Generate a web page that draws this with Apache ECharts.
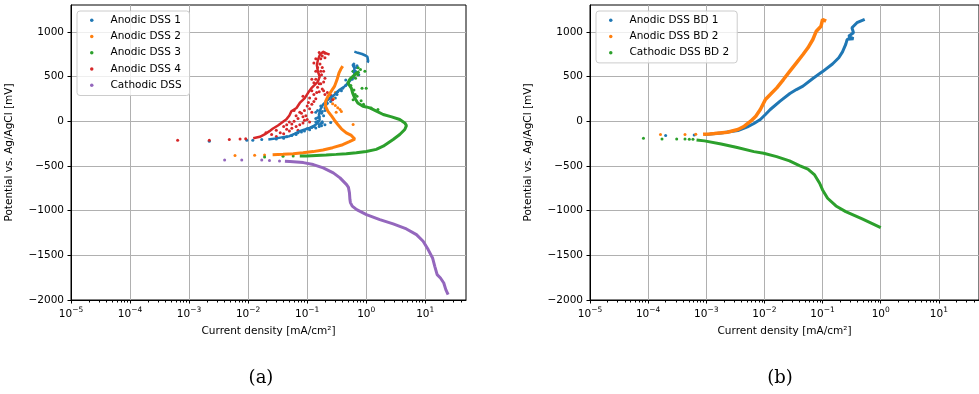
<!DOCTYPE html>
<html>
<head>
<meta charset="utf-8">
<script src="https://cdn.jsdelivr.net/npm/echarts@6/dist/echarts.min.js"></script>
<style>
html,body{margin:0;padding:0;background:#fff;}
#chart{width:979px;height:394px;}
</style>
</head>
<body>
<div id="chart"></div>
<script>
// ---------- data: [current density mA/cm2, potential mV] ----------
// (a) left panel
const dss1Dots = [[0.0022,-224],[0.0095,-213],[0.012,-213],[0.017,-205],[0.03,-200],[0.04,-190],[0.055,-160],[0.065,-150],[0.045,-175],[0.07,-130],[0.08,-120],[0.09,-110],[0.11,-95],[0.1,-85],[0.12,-70],[0.14,-75],[0.13,-60],[0.16,-60],[0.16,-40],[0.175,-50],[0.2,-40],[0.17,-25],[0.18,-20],[0.25,-15],[0.14,-10],[0.15,0],[0.18,-5],[0.14,30],[0.15,40],[0.16,50],[0.19,60],[0.175,90],[0.14,100],[0.18,110],[0.15,120],[0.2,120],[0.2,150],[0.17,170],[0.21,190],[0.22,200],[0.25,220],[0.26,245],[0.3,260],[0.27,280],[0.32,300],[0.33,330],[0.38,340],[0.4,370],[0.45,400],[0.48,420],[0.5,420],[0.45,460],[0.58,470],[0.55,480],[0.62,490],[0.75,520],[0.7,540],[0.6,560],[0.66,560],[0.68,600],[0.62,620],[0.7,620]];
const dss1Trail = [[0.022,-204],[0.030,-192],[0.039,-178],[0.050,-167],[0.061,-141],[0.075,-111],[0.091,-93],[0.110,-74],[0.134,-48],[0.152,-18],[0.163,18],[0.158,74],[0.167,130],[0.185,185],[0.211,222],[0.24,259],[0.29,296],[0.354,352],[0.43,389],[0.52,444],[0.63,518],[0.63,592],[0.59,629],[0.64,650]];
const dss1Top = [[0.63,778],[0.72,765],[0.85,752],[0.97,735],[1.05,720],[1.08,700],[1.08,672],[1.05,655]];

const dss2Dots = [[0.0060,-384],[0.0129,-380],[0.019,-377],[0.27,195],[0.3,175],[0.33,150],[0.36,130],[0.31,100],[0.38,110],[0.6,-37],[0.28,250],[0.3,320]];
const dss2Trail = [[0.026,-374],[0.039,-370],[0.058,-363],[0.085,-352],[0.126,-340],[0.185,-322],[0.27,-296],[0.40,-263],[0.52,-229],[0.64,-200],[0.68,-205],[0.56,-159],[0.46,-130],[0.38,-85],[0.33,-37],[0.29,11],[0.26,56],[0.225,111],[0.205,167],[0.205,222],[0.225,278],[0.255,333],[0.29,389],[0.32,463],[0.345,537],[0.37,581],[0.40,616]];

const dss3Dots = [[0.019,-400],[0.039,-392],[0.058,-390],[1.21,148],[1.58,130],[0.85,370],[1.0,370],[0.95,560],[0.8,578],[0.6,560],[0.73,597],[0.65,300],[0.7,280],[0.6,240],[0.62,350],[0.55,400],[0.66,480],[0.72,520],[0.82,230],[0.9,190]];
const dss3Trail = [[0.075,-388],[0.097,-388],[0.143,-383],[0.21,-378],[0.31,-371],[0.46,-363],[0.68,-352],[1.0,-338],[1.48,-315],[1.94,-280],[2.86,-205],[3.7,-149],[4.5,-93],[4.8,-49],[4.5,-19],[3.7,19],[2.7,49],[1.94,75],[1.49,112],[1.15,149],[1.0,160],[0.88,167],[0.72,204],[0.64,259],[0.59,315],[0.56,370],[0.49,426],[0.52,463],[0.59,500],[0.68,537],[0.77,555]];

const dss4Dots = [[0.00064,-213],[0.0022,-213],[0.0048,-205],[0.0073,-198],[0.0091,-195],[0.03,-170],[0.025,-150],[0.04,-140],[0.02,-130],[0.035,-130],[0.05,-110],[0.03,-100],[0.07,-100],[0.045,-90],[0.055,-80],[0.04,-60],[0.065,-60],[0.045,-40],[0.075,-40],[0.055,-30],[0.085,-20],[0.05,-10],[0.11,-10],[0.06,0],[0.09,10],[0.1,20],[0.07,30],[0.085,50],[0.065,60],[0.095,60],[0.08,90],[0.075,100],[0.12,100],[0.06,120],[0.09,120],[0.11,140],[0.1,170],[0.12,190],[0.105,210],[0.13,220],[0.14,250],[0.11,260],[0.085,280],[0.13,300],[0.2,300],[0.23,250],[0.27,240],[0.25,290],[0.145,320],[0.22,320],[0.16,330],[0.12,340],[0.19,340],[0.18,360],[0.15,380],[0.17,420],[0.16,420],[0.13,430],[0.19,440],[0.14,470],[0.12,470],[0.2,480],[0.175,520],[0.14,560],[0.17,560],[0.19,560],[0.15,600],[0.18,600],[0.165,640],[0.13,650],[0.14,700],[0.17,700],[0.2,710],[0.18,730],[0.2,760],[0.16,770]];
const dss4Trail = [[0.0122,-190],[0.0158,-174],[0.019,-148],[0.023,-111],[0.026,-85],[0.032,-48],[0.037,-18],[0.044,18],[0.050,63],[0.054,111],[0.066,148],[0.075,204],[0.080,222],[0.091,259],[0.103,315],[0.118,370],[0.134,407],[0.152,444],[0.163,500],[0.152,555],[0.146,629],[0.152,685],[0.163,740],[0.185,777],[0.211,759],[0.24,745]];

const cathDots = [[0.0040,-433],[0.0078,-433],[0.017,-435],[0.023,-440],[0.034,-444]];
const cathTrail = [[0.042,-448],[0.051,-451],[0.066,-455],[0.086,-463],[0.127,-485],[0.187,-522],[0.277,-578],[0.36,-634],[0.465,-709],[0.50,-740],[0.52,-800],[0.53,-877],[0.54,-910],[0.58,-950],[0.69,-989],[1.01,-1045],[1.70,-1101],[2.86,-1149],[4.8,-1205],[7.1,-1269],[9.2,-1343],[11.2,-1436],[13.3,-1530],[14.5,-1623],[15.9,-1716],[18.1,-1754],[20.6,-1810],[22.3,-1884],[24.4,-1940]];

// (b) right panel
const bd1Dots = [[0.0002,-160],[0.00062,-155]];
const bd1Trail = [[0.00094,-150],[0.0018,-131],[0.0035,-104],[0.0051,-63],[0.0066,-26],[0.0085,19],[0.0104,75],[0.0126,131],[0.0186,224],[0.0274,310],[0.0355,354],[0.046,392],[0.068,478],[0.1,555],[0.148,640],[0.19,710],[0.22,776],[0.25,860],[0.265,916],[0.34,923],[0.28,950],[0.28,972],[0.34,990],[0.32,1046],[0.39,1102],[0.53,1139]];
const bd2Dots = [[0.000163,-150],[0.00043,-149],[0.00066,-146]];
const bd2Trail = [[0.00088,-146],[0.00114,-142],[0.00138,-138],[0.0023,-123],[0.0035,-93],[0.0045,-56],[0.0058,0],[0.0071,56],[0.0085,131],[0.0104,243],[0.0126,298],[0.0163,373],[0.0212,466],[0.0274,560],[0.0355,653],[0.046,746],[0.056,821],[0.068,914],[0.078,1007],[0.094,1063],[0.10,1138],[0.107,1150],[0.115,1119]];
const bdCathDots = [[0.000083,-190],[0.000173,-198],[0.00031,-198],[0.00043,-198],[0.00051,-201],[0.00059,-201]];
const bdCathTrail = [[0.00068,-209],[0.00093,-220],[0.0018,-254],[0.0034,-295],[0.0066,-340],[0.0097,-358],[0.0162,-396],[0.027,-444],[0.040,-496],[0.056,-537],[0.073,-601],[0.089,-694],[0.10,-769],[0.122,-862],[0.17,-948],[0.25,-1011],[0.48,-1093],[1.0,-1190]];

const leftNames = ['Anodic DSS 1','Anodic DSS 2','Anodic DSS 3','Anodic DSS 4','Cathodic DSS'];
const rightNames = ['Anodic DSS BD 1','Anodic DSS BD 2','Cathodic DSS BD 2'];
const xMajorTicks = [1e-5,1e-4,1e-3,1e-2,1e-1,1e0,1e1];
const yTicks = [-2000,-1500,-1000,-500,0,500,1000];
const xLabel = 'Current density [mA/cm²]';
const yLabel = 'Potential vs. Ag/AgCl [mV]';
const captions = ['(a)','(b)'];

// ---------- styling ----------
const C = ['#1f77b4','#ff7f0e','#2ca02c','#d62728','#9467bd'];
const FONT = 'DejaVu Sans';
const XMIN = 1e-5, XMAX = 49, YMIN = -2000, YMAX = 1300;

const minorTicks = [];
for (let e = -5; e <= 1; e++) for (let m = 2; m <= 9; m++) { const v = m * Math.pow(10, e); if (v < XMAX) minorTicks.push(v); }

const grids = [
  {left: 71, top: 5, width: 395, height: 295},
  {left: 590, top: 5, width: 395, height: 295}
].map(g => Object.assign(g, {show: true, borderColor: '#000', borderWidth: 1, backgroundColor: 'transparent', containLabel: false}));

function supLabel(v) {
  const e = Math.round(Math.log10(v));
  if (Math.abs(Math.log10(v) - e) > 1e-6) return '';
  return '{b|10}{s|' + (e < 0 ? '−' : '') + Math.abs(e) + '}';
}

const xAxes = [], yAxes = [];
[0, 1].forEach(gi => {
  xAxes.push({
    type: 'log', logBase: 10, gridIndex: gi, min: XMIN, max: XMAX,
    name: xLabel, nameLocation: 'middle', nameGap: 26,
    nameTextStyle: {fontFamily: FONT, fontSize: 10.5, color: '#000'},
    axisLine: {show: true, onZero: false, lineStyle: {color: '#000', width: 1}},
    axisTick: {show: true, inside: false, length: 3.5, customValues: xMajorTicks, lineStyle: {color: '#000', width: 1}},
    axisLabel: {
      show: true, margin: 6, customValues: xMajorTicks, formatter: supLabel,
      rich: {
        b: {fontFamily: FONT, fontSize: 10.5, color: '#000', padding: [3, 0, 0, 0]},
        s: {fontFamily: FONT, fontSize: 7.5, color: '#000', verticalAlign: 'top'}
      }
    },
    splitLine: {show: true, lineStyle: {color: '#b0b0b0', width: 1}},
    minorTick: {show: false}
  });
  xAxes.push({
    type: 'log', logBase: 10, gridIndex: gi, min: XMIN, max: XMAX, position: 'bottom', offset: 0,
    axisLine: {show: false, onZero: false},
    axisTick: {show: true, inside: false, length: 2.5, customValues: minorTicks, lineStyle: {color: '#000', width: 1}},
    axisLabel: {show: false},
    splitLine: {show: false}
  });
  yAxes.push({
    type: 'value', gridIndex: gi, min: YMIN, max: YMAX, interval: 500,
    name: yLabel, nameLocation: 'middle', nameGap: 56, nameRotate: 90,
    nameTextStyle: {fontFamily: FONT, fontSize: 10.5, color: '#000'},
    axisLine: {show: true, onZero: false, lineStyle: {color: '#000', width: 1}},
    axisTick: {show: true, inside: false, length: 3.5, customValues: yTicks, lineStyle: {color: '#000', width: 1}},
    axisLabel: {show: true, margin: 7, customValues: yTicks, fontFamily: FONT, fontSize: 10.5, color: '#000',
      formatter: v => (v > 1000 ? '' : (v < 0 ? '−' + Math.abs(v) : String(v)))},
    splitLine: {show: true, lineStyle: {color: '#b0b0b0', width: 1}}
  });
});

function group(name, color, dots, trails, xi, yi, lw) {
  const out = [{
    name, type: 'scatter', xAxisIndex: xi, yAxisIndex: yi, data: dots,
    symbol: 'circle', symbolSize: 3, itemStyle: {color, opacity: 1}, silent: true
  }];
  trails.forEach(t => out.push({
    name, type: 'line', xAxisIndex: xi, yAxisIndex: yi, data: t,
    showSymbol: false, symbol: 'none', smooth: false, color,
    lineStyle: {color, width: lw}, itemStyle: {color}, silent: true
  }));
  return out;
}

const series = [].concat(
  group(leftNames[0], C[0], dss1Dots, [dss1Trail, dss1Top], 0, 0, 2.5),
  group(leftNames[1], C[1], dss2Dots, [dss2Trail], 0, 0, 3),
  group(leftNames[2], C[2], dss3Dots, [dss3Trail], 0, 0, 3),
  group(leftNames[3], C[3], dss4Dots, [dss4Trail], 0, 0, 2.5),
  group(leftNames[4], C[4], cathDots, [cathTrail], 0, 0, 3),
  group(rightNames[0], C[0], bd1Dots, [bd1Trail], 2, 1, 3),
  group(rightNames[1], C[1], bd2Dots, [bd2Trail], 2, 1, 3.5),
  group(rightNames[2], C[2], bdCathDots, [bdCathTrail], 2, 1, 3)
);

function legend(left, names) {
  return {
    left, top: 11, orient: 'vertical', icon: 'circle', itemWidth: 3.5, itemHeight: 3.5, itemGap: 0,
    padding: [1, 8, 2, 13], backgroundColor: 'rgba(255,255,255,0.8)', borderColor: '#cccccc',
    borderWidth: 1, borderRadius: 3, selectedMode: false,
    textStyle: {fontFamily: FONT, fontSize: 10.5, color: '#000', lineHeight: 16.3, padding: [0, 0, 0, 12]},
    data: names
  };
}

const option = {
  animation: false,
  backgroundColor: '#fff',
  grid: grids,
  xAxis: xAxes,
  yAxis: yAxes,
  legend: [legend(77, leftNames), legend(596, rightNames)],
  graphic: [
    {type: 'text', x: 261, y: 378, style: {text: captions[0], font: '18px "DejaVu Serif"', fill: '#000', align: 'center', verticalAlign: 'middle'}},
    {type: 'text', x: 780, y: 378, style: {text: captions[1], font: '18px "DejaVu Serif"', fill: '#000', align: 'center', verticalAlign: 'middle'}}
  ],
  series
};

const chart = echarts.init(document.getElementById('chart'), null, {renderer: 'canvas'});
chart.setOption(option);
</script>
</body>
</html>
